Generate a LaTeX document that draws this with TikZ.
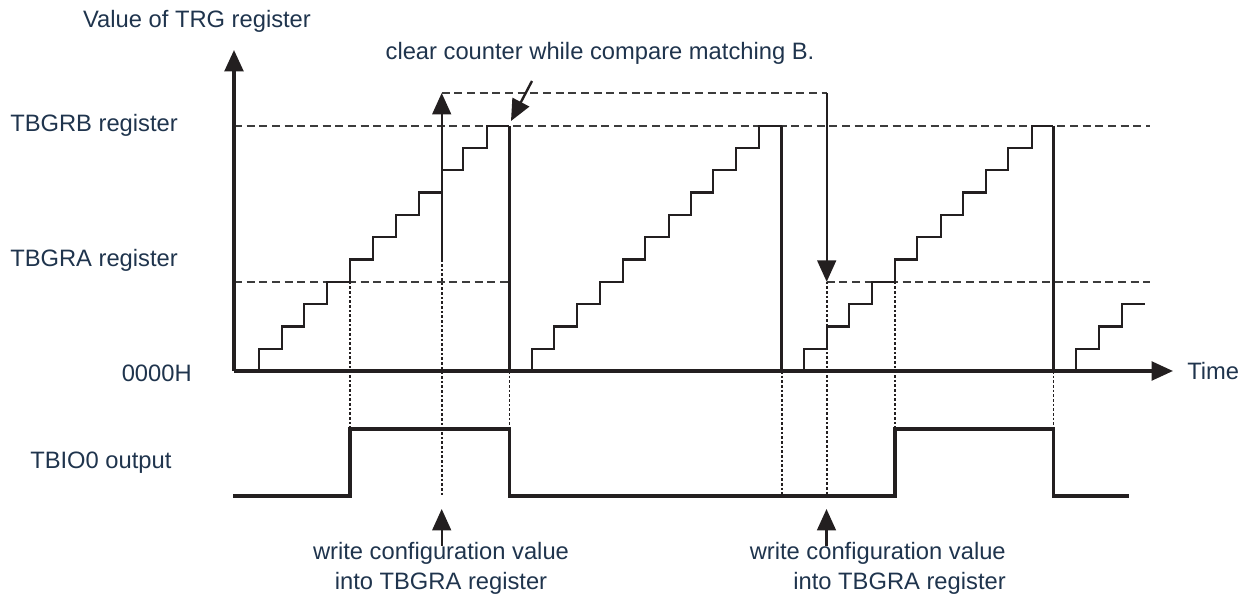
\documentclass[tikz,border=0pt]{standalone}
\usepackage{fontspec}
\setmainfont{Liberation Sans}
\usetikzlibrary{arrows.meta}
\definecolor{ink}{RGB}{35,31,32}
\definecolor{lbl}{RGB}{31,52,77}
\definecolor{guide}{RGB}{60,60,60}

\tikzset{
  axisline/.style={color=ink, line width=2.4pt, -{Triangle[length=16pt,width=14pt]}},
  ramp/.style={color=ink, line width=1.7pt},
  resetline/.style={color=ink, line width=2.3pt},
  wave/.style={color=ink, line width=2.3pt},
  regline/.style={color=guide, line width=1.6pt, dash pattern={on 6pt off 3.5pt}},
  syncline/.style={color=ink, line width=1.2pt, dash pattern={on 2pt off 1.5pt}},
  pointer/.style={color=ink, line width=1.8pt, -{Triangle[length=16pt,width=14pt]}},
  txt/.style={text=lbl, inner sep=0pt, font=\fontsize{17.8}{22.5}\selectfont},
}

\begin{document}
\begin{tikzpicture}[x=0.75pt,y=0.75pt,yscale=-1,xscale=1]
\useasboundingbox (0,0) rectangle (1258,598);

%Dashed Lines: compare registers
\draw [regline] (234,125.7) -- (1150,125.7) ;
\draw [regline] (234,281.8) -- (509.3,281.8) ;
\draw [regline] (826.7,281.8) -- (1150,281.8) ;

%Dotted Lines: timing marks
\draw [syncline] (350,281.8) -- (350,429) ;
\draw [syncline] (441.7,259.5) -- (441.7,496) ;
\draw [syncline] (509.3,371) -- (509.3,429) ;
\draw [syncline] (781.7,371) -- (781.7,496) ;
\draw [syncline] (826.7,281.8) -- (826.7,496) ;
\draw [syncline] (895,281.8) -- (895,429) ;
\draw [syncline] (1053.3,371) -- (1053.3,429) ;

%Axes
\coordinate (org) at (234,371) ;
\coordinate (ytop) at (234,50) ;
\coordinate (xend) at (1173,371) ;
\draw [axisline] (org) -- (ytop) ;
\draw [axisline] (org) -- (xend) ;

%Shape: Polyline, counter 1
\draw [ramp] (259,371) -- (259,348.7) -- (281.7,348.7) -- (281.7,326.4) -- (304,326.4) -- (304,304.1) -- (327.3,304.1) -- (327.3,281.8) -- (350,281.8) -- (350,259.5) -- (373.3,259.5) -- (373.3,237.2) -- (396,237.2) -- (396,214.9) -- (419.3,214.9) -- (419.3,192.6) -- (441.7,192.6) -- (441.7,170.3) -- (463.3,170.3) -- (463.3,148) -- (486.7,148) -- (486.7,125.7) -- (509.3,125.7) ;
%Shape: Polyline, counter 2
\draw [ramp] (531.7,371) -- (531.7,348.7) -- (554,348.7) -- (554,326.4) -- (577.3,326.4) -- (577.3,304.1) -- (600,304.1) -- (600,281.8) -- (622.7,281.8) -- (622.7,259.5) -- (645.3,259.5) -- (645.3,237.2) -- (668.7,237.2) -- (668.7,214.9) -- (691,214.9) -- (691,192.6) -- (713.3,192.6) -- (713.3,170.3) -- (736,170.3) -- (736,148) -- (759.3,148) -- (759.3,125.7) -- (781.7,125.7) ;
%Shape: Polyline, counter 3
\draw [ramp] (804.3,371) -- (804.3,348.7) -- (826.7,348.7) -- (826.7,326.4) -- (849.3,326.4) -- (849.3,304.1) -- (872,304.1) -- (872,281.8) -- (895,281.8) -- (895,259.5) -- (917.3,259.5) -- (917.3,237.2) -- (941,237.2) -- (941,214.9) -- (963.3,214.9) -- (963.3,192.6) -- (986,192.6) -- (986,170.3) -- (1008.3,170.3) -- (1008.3,148) -- (1031.7,148) -- (1031.7,125.7) -- (1053.3,125.7) ;
%Shape: Polyline, counter 4
\draw [ramp] (1075.7,371) -- (1075.7,348.7) -- (1099,348.7) -- (1099,326.4) -- (1121.7,326.4) -- (1121.7,304.1) -- (1145,304.1) ;

%Straight Lines: counter cleared
\draw [resetline] (509.3,125.7) -- (509.3,371) ;
\draw [resetline] (781.7,125.7) -- (781.7,371) ;
\draw [resetline] (1053.3,125.7) -- (1053.3,371) ;

%Shape: Polyline, TBIO0 output
\draw [wave] (233.3,496) -- (350,496) -- (350,429) -- (509.3,429) -- (509.3,496) -- (895,496) -- (895,429) -- (1053.3,429) -- (1053.3,496) -- (1128.8,496) ;

%Arrows: TBGRA value changed
\coordinate (oldA) at (441.7,259.5) ;
\coordinate (hiA) at (441.7,93) ;
\coordinate (hiB) at (826.7,93) ;
\coordinate (backA) at (826.7,281.8) ;
\draw [pointer] (oldA) -- (hiA) ;
\draw [regline] (hiA) -- (hiB) ;
\draw [pointer] (hiB) -- (backA) ;

% Text Node
\draw (197,27.3) node [txt, anchor=base] (yname) {Value of TRG register};
% Text Node
\draw (600,60) node [txt, anchor=base] (clrtxt) {clear counter while compare matching B.};
% Text Node
\draw (10,131.7) node [txt, anchor=base west] (regB) {TBGRB register};
% Text Node
\draw (10,266.7) node [txt, anchor=base west] (regA) {TBGRA register};
% Text Node
\draw (192,381.7) node [txt, anchor=base east] (zero) {0000H};
% Text Node
\draw (30,468.3) node [txt, anchor=base west] (outname) {TBIO0 output};
% Text Node
\draw (1187,380) node [txt, anchor=base west] (tname) {Time};
% Text Node
\draw (441,590) node [txt, anchor=base, align=center] (wrA) {write configuration value\\into TBGRA register};
% Text Node
\draw (1006,590) node [txt, anchor=base east, align=right] (wrB) {write configuration value\\into TBGRA register};

%Arrows: notes
\coordinate (clrfrom) at (532,81) ;
\coordinate (clrto) at (511,121) ;
\draw [pointer] (clrfrom) -- (clrto) ;
\coordinate (wrAfrom) at (441.7,546) ;
\coordinate (wrAto) at (441.7,509) ;
\draw [pointer] (wrAfrom) -- (wrAto) ;
\coordinate (wrBfrom) at (826.5,546) ;
\coordinate (wrBto) at (826.5,509) ;
\draw [pointer] (wrBfrom) -- (wrBto) ;

\end{tikzpicture}
\end{document}
